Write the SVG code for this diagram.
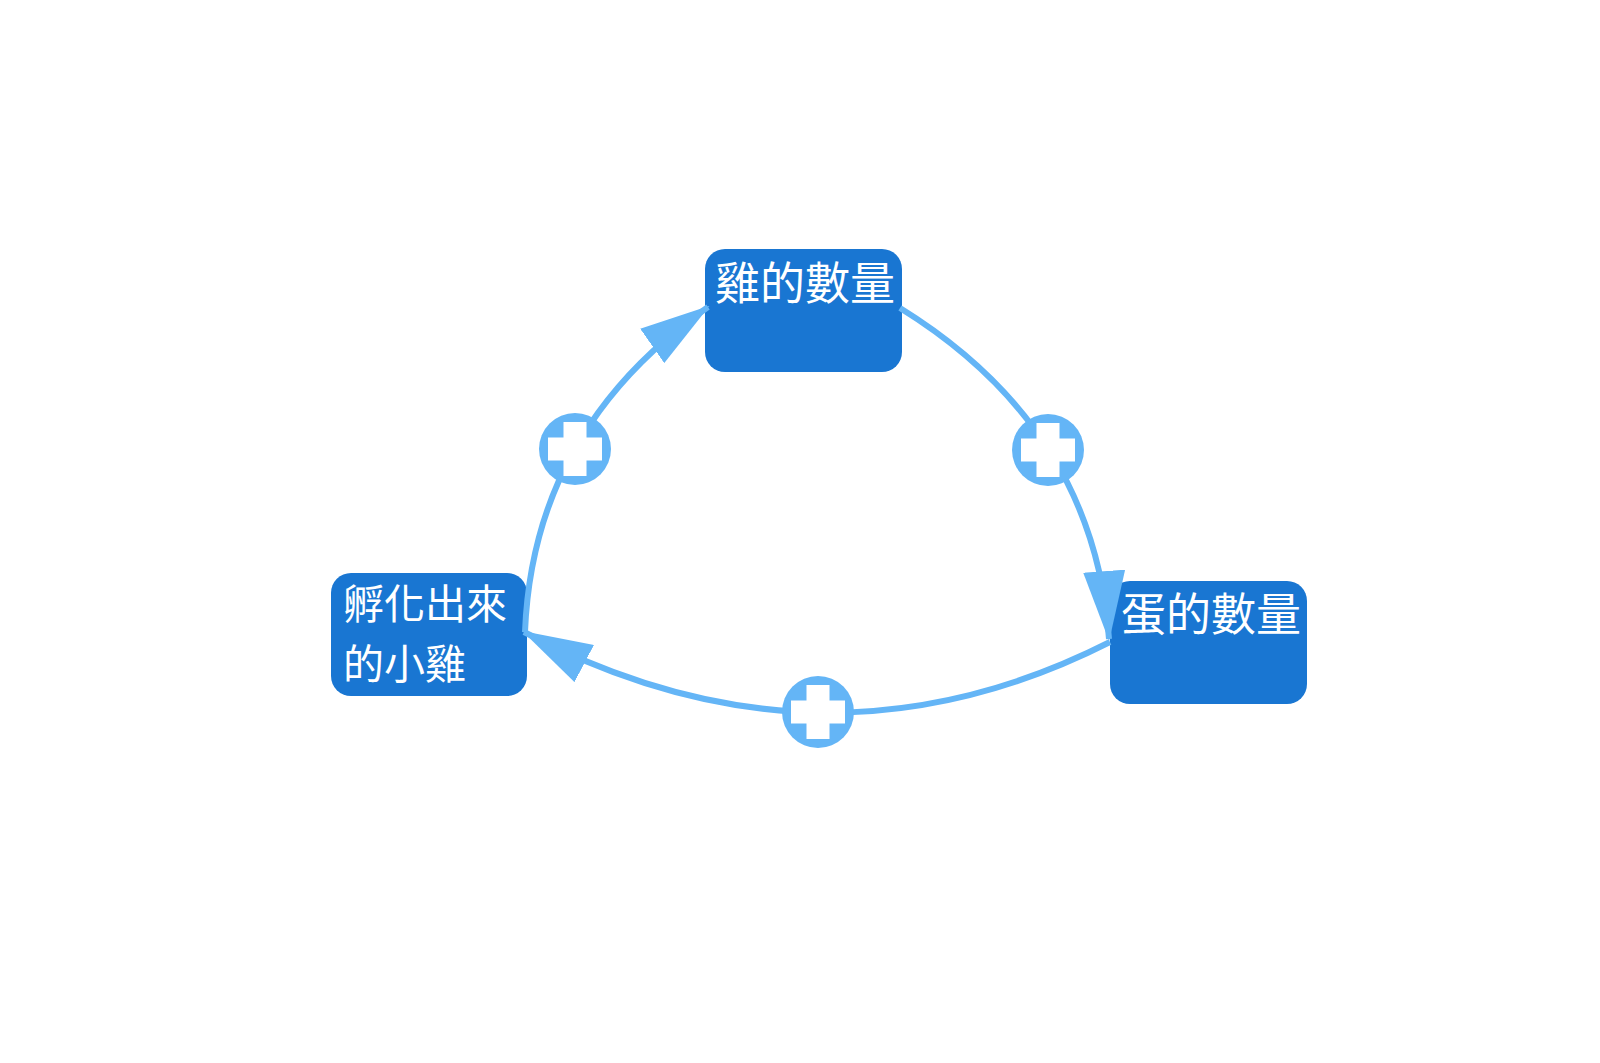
<svg xmlns="http://www.w3.org/2000/svg" width="1600" height="1063" viewBox="0 0 1600 1063">
<style>
.node{fill:#1976D2;}
.lbl{fill:#ffffff;font-family:"Noto Sans CJK TC","Noto Sans CJK SC",sans-serif;font-size:45px;}
.lbl2{font-size:41px;}
.edge{fill:none;stroke:#64B5F6;stroke-width:6;}
.pc{fill:#64B5F6;}
.px{fill:#ffffff;}
</style>
<defs>
<marker id="arr" markerUnits="userSpaceOnUse" viewBox="0 0 70 42" markerWidth="70" markerHeight="42" refX="68" refY="21" orient="auto">
<path d="M0,0 L70,21 L0,42 Z" fill="#64B5F6"/>
</marker>
<g id="plus">
<circle r="36" class="pc"/>
<rect x="-27" y="-11.5" width="54" height="23" class="px"/>
<rect x="-11.5" y="-27" width="23" height="54" class="px"/>
</g>
</defs>
<rect width="1600" height="1063" fill="#ffffff"/>
<g id="node-chickens">
<rect class="node" x="705" y="249" width="197" height="123" rx="20"/>
<text class="lbl" x="715" y="300">雞的數量</text>
</g>
<g id="node-chicks">
<rect class="node" x="331" y="573" width="196" height="123" rx="20"/>
<text class="lbl lbl2" x="343" y="619">孵化出來</text>
<text class="lbl lbl2" x="343" y="679">的小雞</text>
</g>
<g id="node-eggs">
<rect class="node" x="1110" y="581" width="197" height="123" rx="20"/>
<text class="lbl" x="1121" y="631">蛋的數量</text>
</g>
<g id="connectors">
<path class="edge" d="M525,632 Q533,429 708,307" marker-end="url(#arr)"/>
<path class="edge" d="M900,308 Q1094,428 1109,639" marker-end="url(#arr)"/>
<path class="edge" d="M1110,642 Q822,788 524,632" marker-end="url(#arr)"/>
</g>
<g id="polarity-1"><use href="#plus" x="575" y="449"/></g>
<g id="polarity-2"><use href="#plus" x="1048" y="450"/></g>
<g id="polarity-3"><use href="#plus" x="818" y="712"/></g>
</svg>
